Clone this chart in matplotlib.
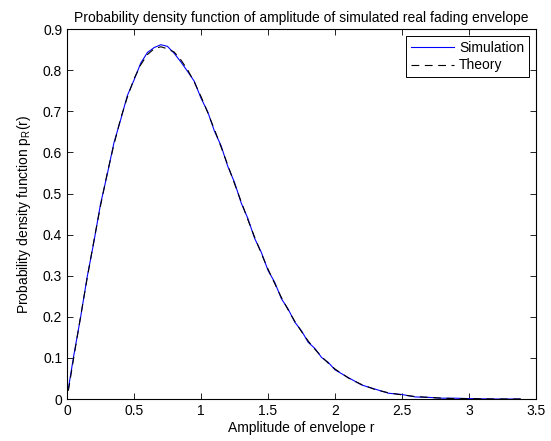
import matplotlib
matplotlib.use("Agg")
import matplotlib.pyplot as plt

plt.rcParams["font.family"] = ["Liberation Sans", "DejaVu Sans"]
plt.rcParams["mathtext.fontset"] = "custom"
plt.rcParams["mathtext.rm"] = "Liberation Sans"

# amplitude samples
r_theory = [0.01, 0.05, 0.10, 0.15, 0.20, 0.25, 0.30, 0.35, 0.40, 0.45, 0.50,
            0.55, 0.60, 0.65, 0.70, 0.75, 0.80, 0.85, 0.90, 0.95, 1.00, 1.05,
            1.10, 1.15, 1.20, 1.25, 1.30, 1.35, 1.40, 1.45, 1.50, 1.55, 1.60,
            1.65, 1.70, 1.75, 1.80, 1.85, 1.90, 1.95, 2.00, 2.10, 2.20, 2.30,
            2.40, 2.50, 2.60, 2.70, 2.80, 2.90, 3.00, 3.20, 3.40]
p_theory = [0.020, 0.100, 0.198, 0.293, 0.384, 0.470, 0.549, 0.619, 0.682,
            0.734, 0.779, 0.813, 0.838, 0.852, 0.857, 0.852, 0.844, 0.825,
            0.801, 0.771, 0.736, 0.697, 0.656, 0.613, 0.569, 0.524, 0.480,
            0.436, 0.394, 0.354, 0.316, 0.281, 0.247, 0.217, 0.189, 0.164,
            0.141, 0.121, 0.103, 0.087, 0.073, 0.051, 0.035, 0.023, 0.015,
            0.010, 0.006, 0.004, 0.002, 0.001, 0.001, 0.000, 0.000]

r_sim = [0.01, 0.05, 0.10, 0.15, 0.20, 0.25, 0.30, 0.35, 0.40, 0.45, 0.50,
         0.55, 0.60, 0.65, 0.70, 0.75, 0.80, 0.85, 0.90, 0.95, 1.00, 1.05,
         1.10, 1.15, 1.20, 1.25, 1.30, 1.35, 1.40, 1.45, 1.50, 1.55, 1.60,
         1.65, 1.70, 1.75, 1.80, 1.85, 1.90, 1.95, 2.00, 2.10, 2.20, 2.30,
         2.40, 2.50, 2.60, 2.70, 2.80, 2.90, 3.00, 3.20, 3.38]
p_sim = [0.025, 0.105, 0.196, 0.296, 0.381, 0.474, 0.546, 0.623, 0.679,
         0.738, 0.776, 0.817, 0.843, 0.855, 0.862, 0.858, 0.841, 0.820,
         0.797, 0.773, 0.732, 0.699, 0.652, 0.616, 0.566, 0.527, 0.477,
         0.439, 0.391, 0.357, 0.313, 0.284, 0.244, 0.219, 0.187, 0.166,
         0.138, 0.123, 0.101, 0.089, 0.071, 0.052, 0.034, 0.024, 0.014,
         0.011, 0.005, 0.004, 0.002, 0.002, 0.001, 0.000, 0.000]

fig, ax = plt.subplots(figsize=(5.51, 4.41), dpi=100)
fig.subplots_adjust(left=0.1216, right=0.9728, top=0.934, bottom=0.0952)

ax.plot(r_sim, p_sim, color="#0000ff", linewidth=0.8, label="Simulation")
ax.plot(r_theory, p_theory, color="black", linewidth=0.8, linestyle=(0, (7, 5)),
        label="Theory")

ax.set_xlim(0, 3.5)
ax.set_ylim(0, 0.9)
ax.set_xticks([0, 0.5, 1, 1.5, 2, 2.5, 3, 3.5])
ax.set_xticklabels(["0", "0.5", "1", "1.5", "2", "2.5", "3", "3.5"])
ax.set_yticks([0, 0.1, 0.2, 0.3, 0.4, 0.5, 0.6, 0.7, 0.8, 0.9])
ax.set_yticklabels(["0", "0.1", "0.2", "0.3", "0.4", "0.5", "0.6", "0.7", "0.8", "0.9"])
ax.tick_params(direction="in", top=True, right=True, labelsize=10, length=4, width=0.6,
               pad=3.5)
for s in ax.spines.values():
    s.set_linewidth(0.8)

ax.set_title("Probability density function of amplitude of simulated real fading envelope",
             fontsize=10, pad=5)
ax.set_xlabel("Amplitude of envelope r", fontsize=10, labelpad=2)
ax.set_ylabel(r"Probability density function p$_\mathregular{R}$(r)", fontsize=10, labelpad=7)

leg = ax.legend(loc="upper right", fontsize=10, handlelength=3.1, fancybox=False,
                framealpha=1, edgecolor="black", borderaxespad=0.5, handletextpad=0.35,
                borderpad=0.35, labelspacing=0.25)
leg.get_frame().set_linewidth(0.7)

fig.savefig("out.png", dpi=100, facecolor="white")
